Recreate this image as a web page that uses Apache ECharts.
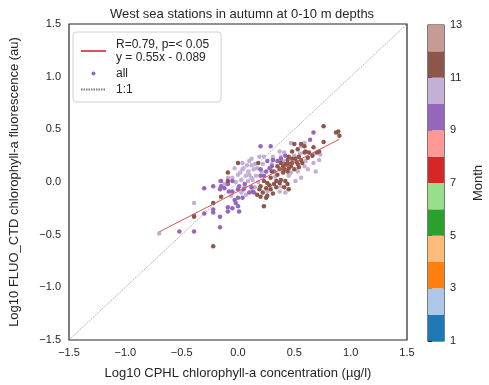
<!DOCTYPE html>
<html>
<head>
<meta charset="utf-8">
<script src="https://cdn.jsdelivr.net/npm/echarts@6/dist/echarts.min.js"></script>
<style>
  html, body { margin: 0; padding: 0; background: #ffffff; }
  #chart { width: 489px; height: 385px; }
</style>
</head>
<body>
<div id="chart"></div>
<script>
// Log10 CPHL (x) vs log10 FLUO_CTD (y), one array pair per month
const sepX = [0.67, 0.64, 0.20, 0.29, 0.31, 0.26, 0.35, 0.20, 0.28, 0.32, 0.25, -0.30, -0.22, -0.15, -0.15, -0.16, -0.09, -0.05, -0.05, -0.08, 0.00, 0.01, 0.06, 0.12, 0.13, 0.10, 0.14, 0.04, 0.00, -0.03, -0.22, -0.22, -0.16, -0.09, -0.09, -0.05, 0.00, 0.01, -0.30, -0.39, -0.16, -0.52, -0.39, 0.20, 0.23, 0.38, 0.30, -0.12, 0.05, -0.02, 0.42];
const sepY = [0.47, 0.40, 0.34, 0.34, 0.21, 0.20, 0.20, 0.12, 0.13, 0.10, 0.10, -0.06, -0.04, 0.01, -0.04, -0.07, -0.02, 0.01, -0.09, -0.09, -0.07, -0.04, -0.02, -0.05, -0.09, -0.10, -0.10, -0.15, -0.15, -0.17, -0.26, -0.29, -0.33, -0.24, -0.28, -0.25, -0.23, -0.28, -0.30, -0.32, -0.43, -0.47, -0.47, 0.06, 0.06, 0.22, 0.15, -0.06, -0.07, -0.20, 0.25];

const octX = [0.47, 0.59, 0.56, 0.37, 0.38, 0.41, 0.04, 0.08, 0.12, 0.04, 0.09, 0.14, 0.00, 0.07, 0.12, 0.03, 0.09, 0.16, -0.16, -0.09, -0.05, -0.12, 0.19, 0.23, 0.31, 0.22, 0.17, 0.45, 0.51, 0.56, 0.62, 0.67, 0.72, 0.69, 0.47, 0.53, 0.59, 0.37, 0.42, 0.26, 0.03, 0.07, -0.06, -0.39, 0.67, 0.73, -0.70,
              0.05, 0.10, 0.15, 0.02, 0.10, 0.13, -0.02, 0.06, 0.18, 0.21, 0.30, 0.33, 0.40, 0.50, 0.55, 0.60, 0.38, -0.03, 0.15, 0.12];
const octY = [0.37, 0.37, 0.34, 0.29, 0.24, 0.28, 0.18, 0.16, 0.16, 0.12, 0.10, 0.12, 0.07, 0.06, 0.04, 0.02, 0.01, 0.06, 0.01, 0.04, 0.04, -0.02, 0.24, 0.24, 0.24, 0.17, 0.13, 0.06, 0.01, 0.04, 0.12, 0.18, 0.21, 0.10, 0.09, 0.10, 0.15, -0.09, -0.10, -0.09, -0.10, -0.12, -0.13, -0.20, 0.26, 0.26, -0.49,
              0.13, 0.20, 0.17, 0.09, 0.07, 0.02, 0.00, -0.05, 0.00, 0.10, 0.17, 0.05, 0.20, 0.25, 0.27, 0.20, -0.04, 0.13, -0.05, 0.22];

const novX = [0.76, 0.87, 0.89, 0.90, 0.76, 0.50, 0.56, 0.48, 0.53, 0.59, 0.63, 0.67, 0.70, 0.54, 0.45, 0.44, 0.48, 0.51, 0.56, 0.62, 0.66, 0.00, 0.18, 0.38, 0.40, 0.42, 0.45, 0.48, 0.53, 0.57, 0.37, 0.41, 0.45, 0.50, 0.54, 0.35, 0.40, 0.44, 0.29, 0.34, 0.38, 0.42, 0.32, 0.23, 0.26, 0.20, 0.25, 0.19, 0.29, 0.34, 0.37, 0.44, 0.45, 0.41, -0.09, -0.09, 0.17, 0.20, 0.25, 0.26, 0.22, 0.23, -0.15, -0.22, -0.39, -0.22, 0.72, 0.59,
              0.30, 0.47, 0.52, 0.35, 0.60, 0.28, 0.31];
const novY = [0.53, 0.47, 0.48, 0.44, 0.38, 0.36, 0.36, 0.29, 0.31, 0.28, 0.28, 0.33, 0.28, 0.24, 0.24, 0.21, 0.22, 0.22, 0.21, 0.23, 0.25, 0.18, 0.18, 0.18, 0.15, 0.17, 0.17, 0.18, 0.17, 0.18, 0.12, 0.12, 0.13, 0.12, 0.14, 0.07, 0.09, 0.10, 0.04, 0.01, 0.02, 0.01, -0.02, 0.01, -0.01, -0.04, -0.06, -0.07, -0.07, -0.05, -0.01, -0.02, -0.07, -0.05, 0.09, 0.01, -0.12, -0.14, -0.15, -0.13, -0.10, -0.23, -0.14, -0.20, -0.33, -0.61, 0.29, 0.34,
              0.10, 0.15, 0.19, 0.15, 0.29, -0.03, -0.11];

// Fit reported for the pooled data
const fitSlope = 0.55;
const fitIntercept = -0.089;
const fitR = 0.79;

// Axis ticks and month colour scale (tab20)
const axisTicks = [-1.5, -1.0, -0.5, 0.0, 0.5, 1.0, 1.5];
const monthTicks = [1, 3, 5, 7, 9, 11, 13];
const months = [1, 2, 3, 4, 5, 6, 7, 8, 9, 10, 11, 12];
const monthColors = ['#1f77b4', '#aec7e8', '#ff7f0e', '#ffbb78', '#2ca02c', '#98df8a',
                     '#d62728', '#ff9896', '#9467bd', '#c5b0d5', '#8c564b', '#c49c94'];

const FONT = '"Liberation Sans", Arial, sans-serif';
const INK = '#262626';

function pairs(xs, ys, month) {
  return xs.map((x, i) => [x, ys[i], month]);
}
const points = [].concat(pairs(octX, octY, 10), pairs(sepX, sepY, 9), pairs(novX, novY, 11));

const allX = points.map(p => p[0]);
const xLo = Math.min.apply(null, allX);
const xHi = Math.max.apply(null, allX);
const fitLine = [[xLo, fitSlope * xLo + fitIntercept], [xHi, fitSlope * xHi + fitIntercept]];
const oneToOne = [[axisTicks[0], axisTicks[0]], [axisTicks[axisTicks.length - 1], axisTicks[axisTicks.length - 1]]];

const fmt = v => v.toFixed(1).replace('-', '\u2212');
const fitName = 'R=' + fitR.toFixed(2) + ', p=< 0.05\ny = ' + fitSlope.toFixed(2) + 'x - ' + Math.abs(fitIntercept).toFixed(3);

const chart = echarts.init(document.getElementById('chart'), null, { renderer: 'canvas' });

chart.setOption({
  animation: false,
  backgroundColor: '#ffffff',
  textStyle: { fontFamily: FONT },
  title: {
    text: 'West sea stations in autumn at 0-10 m depths',
    left: 237, top: 3, textAlign: 'center',
    textStyle: { fontFamily: FONT, fontSize: 13, fontWeight: 'normal', color: INK }
  },
  legend: {
    orient: 'vertical',
    left: 73, top: 32,
    itemWidth: 25, itemHeight: 4, itemGap: 3,
    padding: [6, 12, 6, 7],
    backgroundColor: '#ffffff',
    borderColor: '#d0d0d0', borderWidth: 1, borderRadius: 3,
    textStyle: { fontFamily: FONT, fontSize: 12, color: INK, lineHeight: 13, padding: [0, 0, 0, 5] },
    data: [
      // line entries: keep the stroke, hide the marker dot the line icon adds
      { name: fitName, itemStyle: { opacity: 0 } },
      { name: 'all', icon: 'circle', itemStyle: { color: '#9467bd' } },
      { name: '1:1', itemStyle: { opacity: 0 } }
    ]
  },
  grid: [
    { left: 67, top: 24, width: 340, height: 317, show: true, borderColor: INK, borderWidth: 1.2, backgroundColor: 'transparent' },
    { left: 428, top: 25, width: 16, height: 316, show: true, borderColor: INK, borderWidth: 1.2, backgroundColor: 'transparent' }
  ],
  xAxis: [
    {
      gridIndex: 0, type: 'value', min: axisTicks[0], max: axisTicks[axisTicks.length - 1], interval: 0.5,
      axisLine: { show: false }, axisTick: { show: false }, splitLine: { show: false },
      axisLabel: { formatter: fmt, fontFamily: FONT, fontSize: 11, color: INK, margin: 7 },
      name: 'Log10 CPHL chlorophyll-a concentration (µg/l)',
      nameLocation: 'middle', nameGap: 27,
      nameTextStyle: { fontFamily: FONT, fontSize: 13, color: INK }
    },
    {
      gridIndex: 1, type: 'value', min: 0, max: 1, show: false
    }
  ],
  yAxis: [
    {
      gridIndex: 0, type: 'value', min: axisTicks[0], max: axisTicks[axisTicks.length - 1], interval: 0.5,
      axisLine: { show: false }, axisTick: { show: false }, splitLine: { show: false },
      axisLabel: { formatter: fmt, fontFamily: FONT, fontSize: 11, color: INK, margin: 8 },
      name: 'Log10 FLUO_CTD chlorophyll-a fluorescence (au)',
      nameLocation: 'middle', nameGap: 48, nameRotate: 90,
      nameTextStyle: { fontFamily: FONT, fontSize: 13, color: INK }
    },
    {
      gridIndex: 1, type: 'value', position: 'right',
      min: monthTicks[0], max: monthTicks[monthTicks.length - 1], interval: 2,
      axisLine: { show: false },
      axisTick: { show: true, length: 4, lineStyle: { color: INK, width: 1 } },
      splitLine: { show: false },
      axisLabel: { fontFamily: FONT, fontSize: 11, color: INK, margin: 6 },
      name: 'Month', nameLocation: 'middle', nameGap: 28, nameRotate: 90,
      nameTextStyle: { fontFamily: FONT, fontSize: 13, color: INK }
    }
  ],
  series: [
    {
      name: '1:1', type: 'line', xAxisIndex: 0, yAxisIndex: 0,
      data: oneToOne, symbol: 'none', showSymbol: false, silent: true,
      lineStyle: { color: '#7a7a7a', width: 0.6, type: [1.5, 1] },
      itemStyle: { color: '#7a7a7a' }, z: 1
    },
    {
      name: 'all', type: 'scatter', xAxisIndex: 0, yAxisIndex: 0,
      data: points, symbol: 'circle', symbolSize: 4.5,
      itemStyle: { color: p => monthColors[p.data[2] - 1], opacity: 1 },
      z: 2
    },
    {
      name: fitName, type: 'line', xAxisIndex: 0, yAxisIndex: 0,
      data: fitLine, symbol: 'none', showSymbol: false, silent: true,
      lineStyle: { color: '#d65555', width: 1 },
      itemStyle: { color: '#d65555' }, z: 3
    },
    {
      name: 'month scale', type: 'custom', xAxisIndex: 1, yAxisIndex: 1,
      data: months.map(m => [m]), encode: { y: 0 }, silent: true,
      renderItem: function (params, api) {
        const m = api.value(0);
        const topRight = api.coord([1, m + 1]);
        const botLeft = api.coord([0, m]);
        return {
          type: 'rect',
          shape: { x: botLeft[0], y: topRight[1], width: topRight[0] - botLeft[0], height: botLeft[1] - topRight[1] },
          style: { fill: monthColors[m - 1] }
        };
      }
    }
  ]
});
</script>
</body>
</html>
